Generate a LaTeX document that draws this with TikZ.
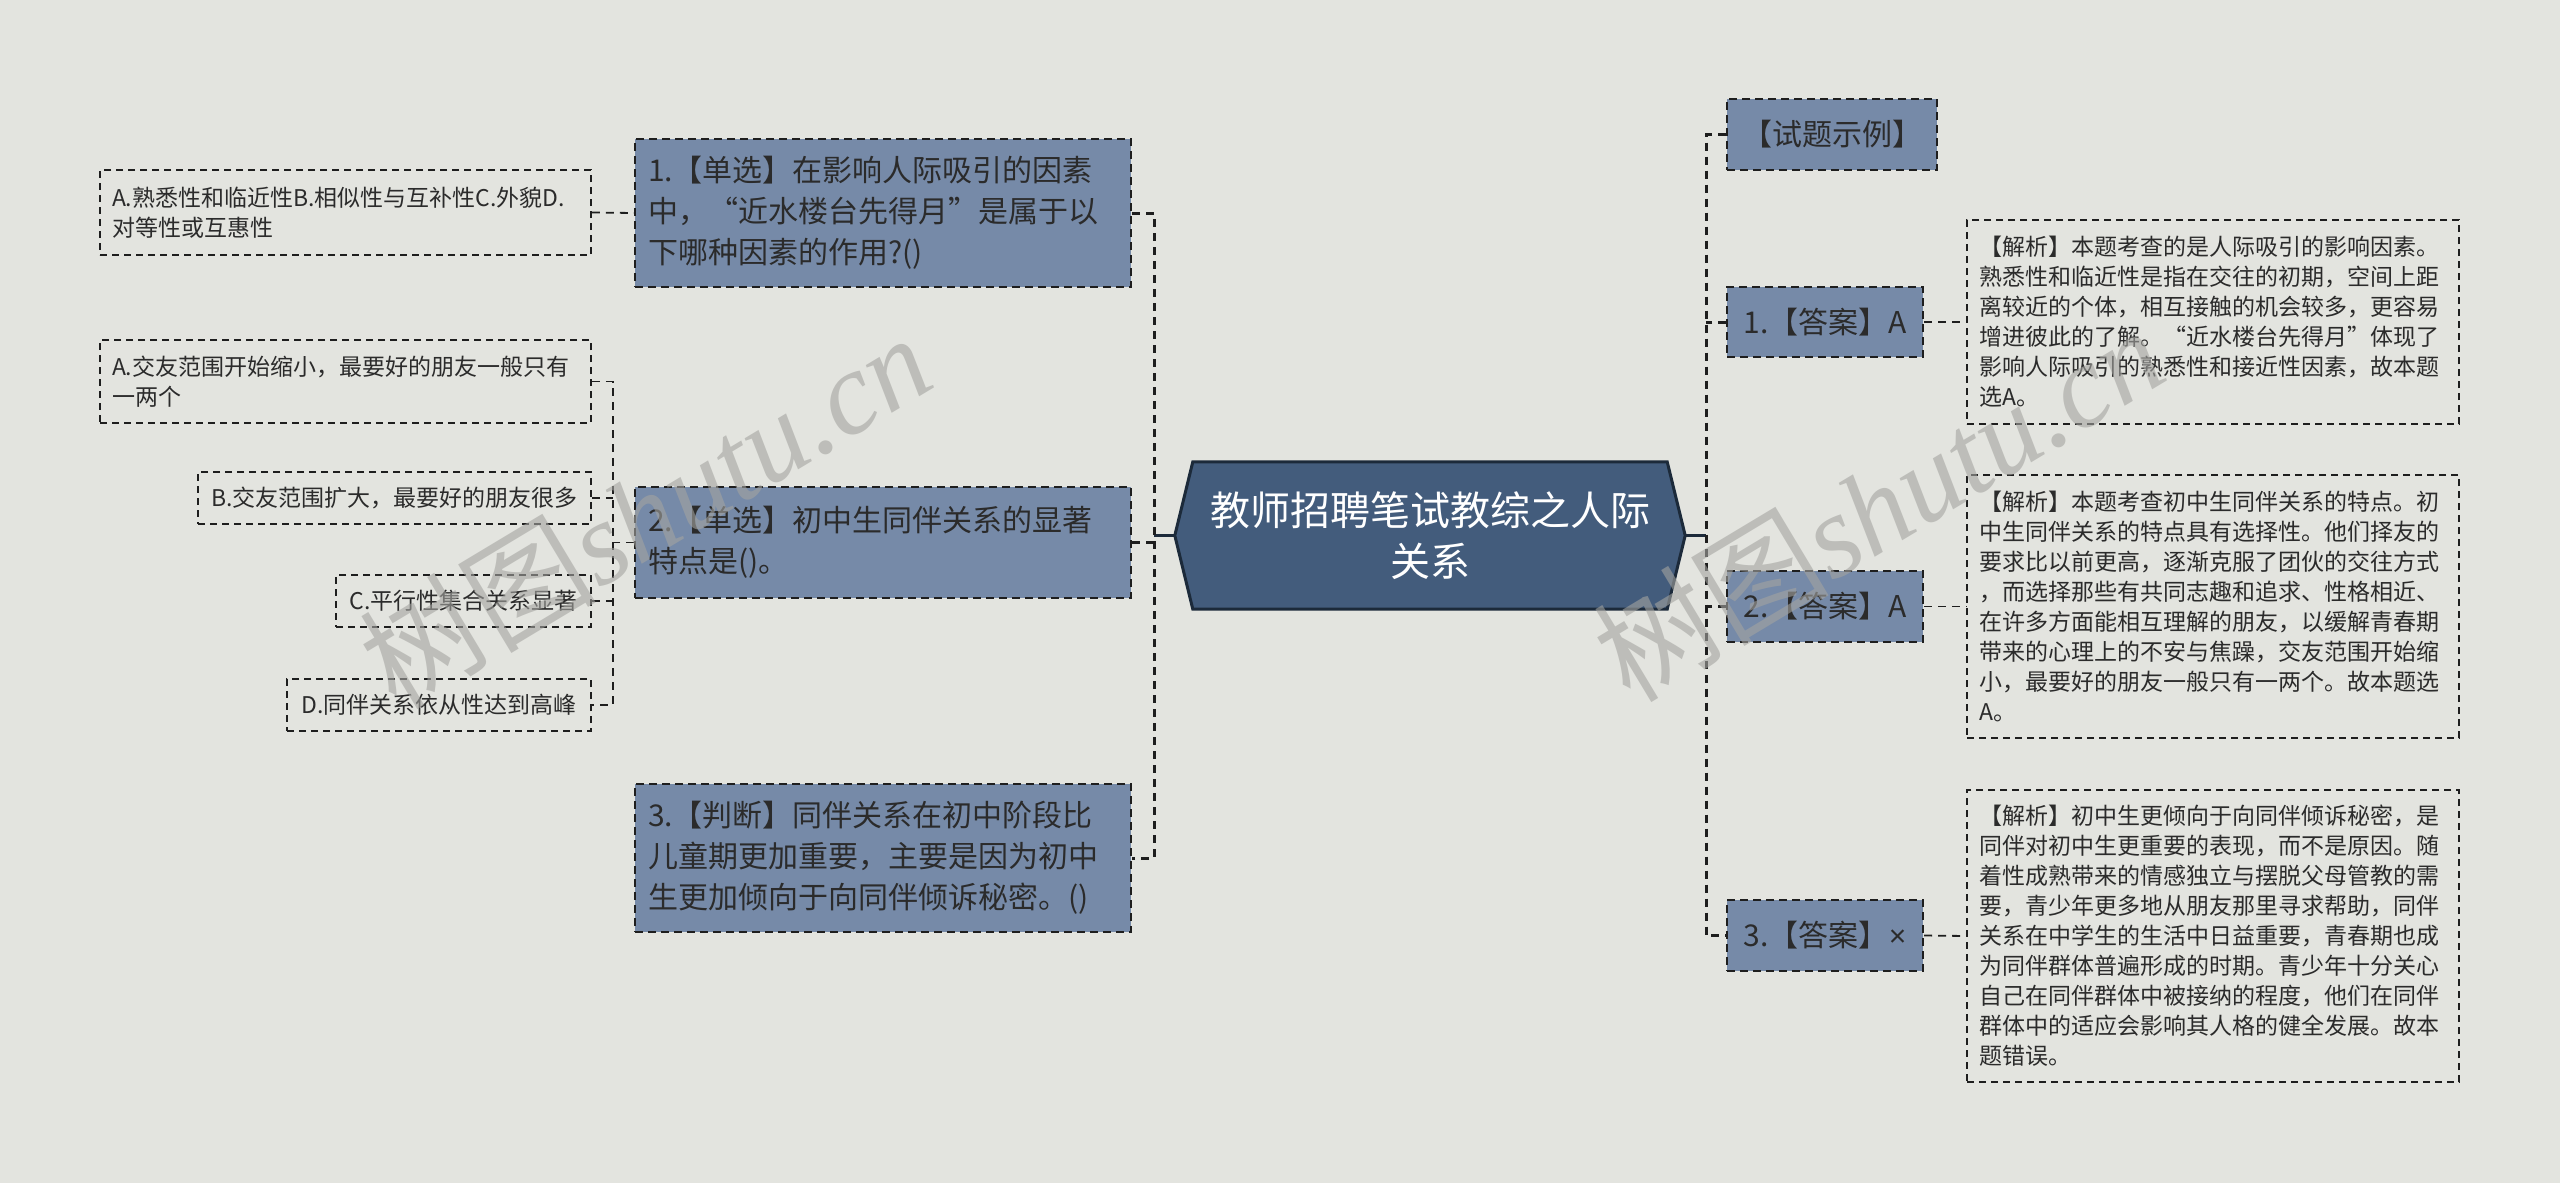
\documentclass[tikz,border=0pt]{standalone}
\usepackage{fontspec}
\setmainfont{Noto Sans CJK SC}
\newfontfamily\wmlatin{Liberation Serif}
\newfontfamily\latsans{Liberation Sans}
\usetikzlibrary{calc}
\definecolor{bgc}{HTML}{E3E4DF}
\definecolor{lvone}{HTML}{768AA8}
\definecolor{ctr}{HTML}{435C7C}
\definecolor{ctrline}{HTML}{1C2A3A}
\definecolor{lnc}{HTML}{1E1E1E}
\definecolor{txt}{HTML}{2B2B2B}
\definecolor{wmc}{HTML}{A4A4A0}
\begin{document}
\begin{tikzpicture}[x=1pt,y=-1pt,
  lvbox/.style={draw=lnc, line width=2pt, dash pattern=on 8pt off 5pt, fill=lvone, text=txt, inner xsep=13pt, inner ysep=0pt, align=left, font=\fontsize{30}{41}\selectfont},
  subbox/.style={draw=lnc, line width=1.6pt, dash pattern=on 7pt off 5pt, text=txt, inner xsep=12pt, inner ysep=0pt, align=left, font=\fontsize{23}{30}\selectfont},
  trunk/.style={draw=lnc, line width=3pt, dash pattern=on 8pt off 6pt},
  twig/.style={draw=lnc, line width=1.8pt, dash pattern=on 8pt off 6pt},
  stem/.style={draw=ctrline, line width=3pt},
  wmark/.style={rotate=31, text=wmc, opacity=0.6, inner sep=0pt}
]
\useasboundingbox (0,0) rectangle (2560,1183);
\fill[bgc] (0,0) rectangle (2560,1183);

% central node
\path (1430,535.5) node[minimum width=510pt, minimum height=147pt, inner sep=0pt] (c) {};
\filldraw[fill=ctr, draw=ctrline, line width=3pt, line join=miter]
  (c.west) -- ([xshift=18pt]c.north west) -- ([xshift=-18pt]c.north east) -- (c.east)
  -- ([xshift=-18pt]c.south east) -- ([xshift=18pt]c.south west) -- cycle;
\node[text=white, align=center, inner sep=0pt, font=\fontsize{40}{51}\selectfont] (ctext) at (c.center) {教师招聘笔试教综之人际\\关系};

% left level-1
\node[lvbox, text width=470pt, minimum height=148pt] (q1) at (883,213) {1.【单选】在影响人际吸引的因素\\中，“近水楼台先得月”是属于以\\下哪种因素的作用?()};
\node[lvbox, text width=470pt, minimum height=111pt] (q2) at (883,542.5) {2.【单选】初中生同伴关系的显著\\特点是()。};
\node[lvbox, text width=470pt, minimum height=148pt] (q3) at (883,858) {3.【判断】同伴关系在初中阶段比\\儿童期更加重要，主要是因为初中\\生更加倾向于向同伴倾诉秘密。()};

% left level-2
\node[subbox, text width=467pt, minimum height=85pt] (q1a) at (345.5,212.5) {A.熟悉性和临近性B.相似性与互补性C.外貌D.\\对等性或互惠性};
\node[subbox, text width=467pt, minimum height=83pt] (q2a) at (345.5,381.5) {A.交友范围开始缩小，最要好的朋友一般只有\\一两个};
\node[subbox, text width=369pt, minimum height=52pt, align=center] (q2b) at (394.5,498) {B.交友范围扩大，最要好的朋友很多};
\node[subbox, text width=231pt, minimum height=52pt, align=center] (q2c) at (463.5,601) {C.平行性集合关系显著};
\node[subbox, text width=280pt, minimum height=52pt, align=center] (q2d) at (439,705) {D.同伴关系依从性达到高峰};

% right level-1
\node[lvbox, text width=184pt, minimum height=71pt, align=center] (ex) at (1832,134.5) {【试题示例】};
\node[lvbox, text width=170pt, minimum height=70pt, align=center] (a1) at (1825,322) {1.【答案】A};
\node[lvbox, text width=170pt, minimum height=71pt, align=center] (a2) at (1825,606.5) {2.【答案】A};
\node[lvbox, text width=170pt, minimum height=71pt, align=center] (a3) at (1825,935.5) {3.【答案】{\latsans ×}};

% right level-2
\node[subbox, text width=468pt, minimum height=204pt] (e1) at (2213,322) {【解析】本题考查的是人际吸引的影响因素。\\熟悉性和临近性是指在交往的初期，空间上距\\离较近的个体，相互接触的机会较多，更容易\\增进彼此的了解。“近水楼台先得月”体现了\\影响人际吸引的熟悉性和接近性因素，故本题\\选A。};
\node[subbox, text width=468pt, minimum height=263pt] (e2) at (2213,606.5) {【解析】本题考查初中生同伴关系的特点。初\\中生同伴关系的特点具有选择性。他们择友的\\要求比以前更高，逐渐克服了团伙的交往方式\\，而选择那些有共同志趣和追求、性格相近、\\在许多方面能相互理解的朋友，以缓解青春期\\带来的心理上的不安与焦躁，交友范围开始缩\\小，最要好的朋友一般只有一两个。故本题选\\A。};
\node[subbox, text width=468pt, minimum height=292pt] (e3) at (2213,936) {【解析】初中生更倾向于向同伴倾诉秘密，是\\同伴对初中生更重要的表现，而不是原因。随\\着性成熟带来的情感独立与摆脱父母管教的需\\要，青少年更多地从朋友那里寻求帮助，同伴\\关系在中学生的生活中日益重要，青春期也成\\为同伴群体普遍形成的时期。青少年十分关心\\自己在同伴群体中被接纳的程度，他们在同伴\\群体中的适应会影响其人格的健全发展。故本\\题错误。};

% connectors left
\coordinate (lt) at (1154,535.5);
\coordinate (l2) at (613,542.5);
\draw[stem] (c.west) -- (lt);
\draw[trunk] (q1.east) -| (lt) |- (q3.east);
\draw[trunk] (q2.east) -- (q2.east -| lt);
\draw[twig] (q1a.east) -- (q1.west);
\draw[twig] (q2a.east) -| (l2) |- (q2d.east);
\draw[twig] (q2b.east) -- (q2b.east -| l2);
\draw[twig] (q2c.east) -- (q2c.east -| l2);
\draw[twig] (q2.west) -- (l2);

% connectors right
\coordinate (rt) at (1706,535.5);
\draw[stem] (c.east) -- (rt);
\draw[trunk] (ex.west) -| (rt) |- (a3.west);
\draw[trunk] (a1.west) -- (a1.west -| rt);
\draw[trunk] (a2.west) -- (a2.west -| rt);
\draw[twig] (a1.east) -- (e1.west);
\draw[twig] (a2.east) -- (e2.west);
\draw[twig] (a3.east) -- (e3.west);

% watermarks
\node[wmark, font=\fontsize{118}{118}\selectfont] (wm1) at (645,510) {树图{\wmlatin\itshape shutu.cn}};
\node[wmark, font=\fontsize{118}{118}\selectfont] (wm2) at (1878,503) {树图{\wmlatin\itshape shutu.cn}};
\end{tikzpicture}
\end{document}
